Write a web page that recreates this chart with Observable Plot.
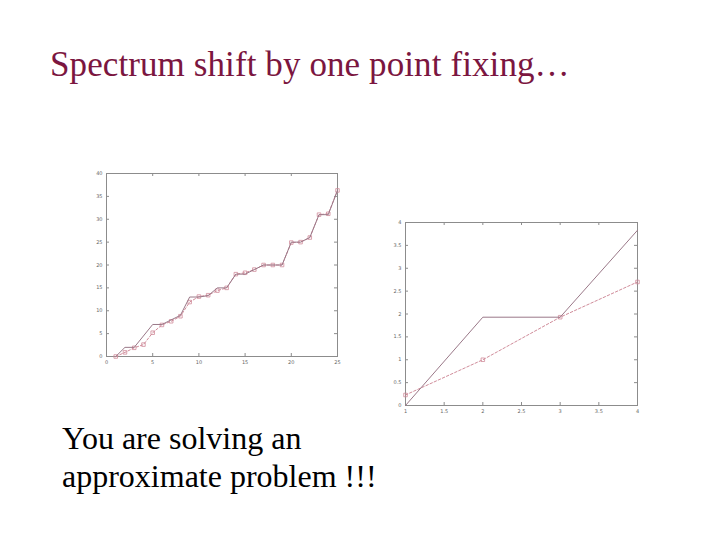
<!DOCTYPE html>
<html>
<head>
<meta charset="utf-8">
<script src="https://cdn.jsdelivr.net/npm/d3@7"></script>
<script src="https://cdn.jsdelivr.net/npm/@observablehq/plot@0.6"></script>
<style>
  html, body { margin: 0; padding: 0; background: #fff; }
  #slide { position: relative; width: 720px; height: 540px; overflow: hidden; background: #fff; }
  #title { position: absolute; left: 50px; top: 47px; font-family: "Liberation Serif", "Times New Roman", serif;
           font-size: 35px; line-height: 35px; color: #7b1640; white-space: nowrap; letter-spacing: 0.1px; }
  #body { position: absolute; left: 62px; top: 419px; font-family: "Liberation Serif", "Times New Roman", serif;
          font-size: 32px; line-height: 38px; color: #000; }
  .plot { position: absolute; }
  #left { left: 81px; top: 163px; }
  #right { left: 380px; top: 212px; }
</style>
</head>
<body>
<div id="slide">
  <div id="title">Spectrum shift by one point fixing…</div>
  <div id="left" class="plot"></div>
  <div id="right" class="plot"></div>
  <div id="body">You are solving an<br>approximate problem !!!</div>
</div>
<script>
// ---- Left chart data ----
const leftSolidX = [1, 2, 3, 5, 6, 8, 9, 10, 11, 12, 13, 14, 15, 16, 17, 18, 19, 20, 21, 22, 23, 24, 25];
const leftSolidY = [0, 2, 2, 7, 7, 9, 13, 13, 13.3, 15, 15, 18, 18, 19, 20, 20, 20, 25, 25, 26, 31, 31, 36.3];
const leftShiftX = [1, 2, 3, 4, 5, 6, 7, 8, 9, 10, 11, 12, 13, 14, 15, 16, 17, 18, 19, 20, 21, 22, 23, 24, 25];
const leftShiftY = [0, 0.9, 1.9, 2.6, 5.2, 6.9, 7.7, 8.8, 11.9, 13.1, 13.4, 14.4, 15, 18, 18.3, 19, 20, 20, 20, 24.9, 25, 26, 31, 31.2, 36.3];
const leftXTicks = [0, 5, 10, 15, 20, 25];
const leftYTicks = [0, 5, 10, 15, 20, 25, 30, 35, 40];

// ---- Right chart data ----
const rightSolidX = [1, 2, 3, 4];
const rightSolidY = [0, 1.93, 1.93, 3.83];
const rightShiftX = [1, 2, 3, 4];
const rightShiftY = [0.23, 1.0, 1.93, 2.7];
const rightXTicks = [1, 1.5, 2, 2.5, 3, 3.5, 4];
const rightYTicks = [0, 0.5, 1, 1.5, 2, 2.5, 3, 3.5, 4];

const solidColor = "#9a7888";
const shiftColor = "#d08c9a";
const frameColor = "#8c8c8c";

function makePlot({solidX, solidY, shiftX, shiftY, xTicks, yTicks, xDomain, yDomain, fw, fh}) {
  const solid = solidX.map((x, i) => ({x, y: solidY[i]}));
  const shift = shiftX.map((x, i) => ({x, y: shiftY[i]}));
  const mL = 25, mT = 10, mR = 10, mB = 15;
  const tl = 3;
  return Plot.plot({
    width: fw + mL + mR,
    height: fh + mT + mB,
    marginLeft: mL, marginTop: mT, marginRight: mR, marginBottom: mB,
    style: {fontSize: "5px", fontFamily: "DejaVu Sans, sans-serif", color: "#666", background: "transparent"},
    x: {domain: xDomain, ticks: xTicks, tickSize: 0, tickPadding: 4, label: null, tickFormat: d => String(d)},
    y: {domain: yDomain, ticks: yTicks, tickSize: 0, tickPadding: 4, label: null, tickFormat: d => String(d)},
    marks: [
      Plot.frame({stroke: frameColor, strokeWidth: 1}),
      Plot.tickX(xTicks, {x: d => d, stroke: frameColor, insetTop: fh - tl}),
      Plot.tickX(xTicks, {x: d => d, stroke: frameColor, insetBottom: fh - tl}),
      Plot.tickY(yTicks, {y: d => d, stroke: frameColor, insetRight: fw - tl}),
      Plot.tickY(yTicks, {y: d => d, stroke: frameColor, insetLeft: fw - tl}),
      Plot.line(shift, {x: "x", y: "y", stroke: shiftColor, strokeWidth: 1, strokeDasharray: "2.5,2"}),
      Plot.dot(shift, {x: "x", y: "y", symbol: "square", r: 2, stroke: shiftColor, strokeWidth: 0.8, fill: "none"}),
      Plot.line(solid, {x: "x", y: "y", stroke: solidColor, strokeWidth: 1})
    ]
  });
}

document.getElementById("left").appendChild(makePlot({
  solidX: leftSolidX, solidY: leftSolidY, shiftX: leftShiftX, shiftY: leftShiftY,
  xTicks: leftXTicks, yTicks: leftYTicks, xDomain: [0, 25], yDomain: [0, 40], fw: 231, fh: 183
}));
document.getElementById("right").appendChild(makePlot({
  solidX: rightSolidX, solidY: rightSolidY, shiftX: rightShiftX, shiftY: rightShiftY,
  xTicks: rightXTicks, yTicks: rightYTicks, xDomain: [1, 4], yDomain: [0, 4], fw: 232, fh: 183
}));
</script>
</body>
</html>
